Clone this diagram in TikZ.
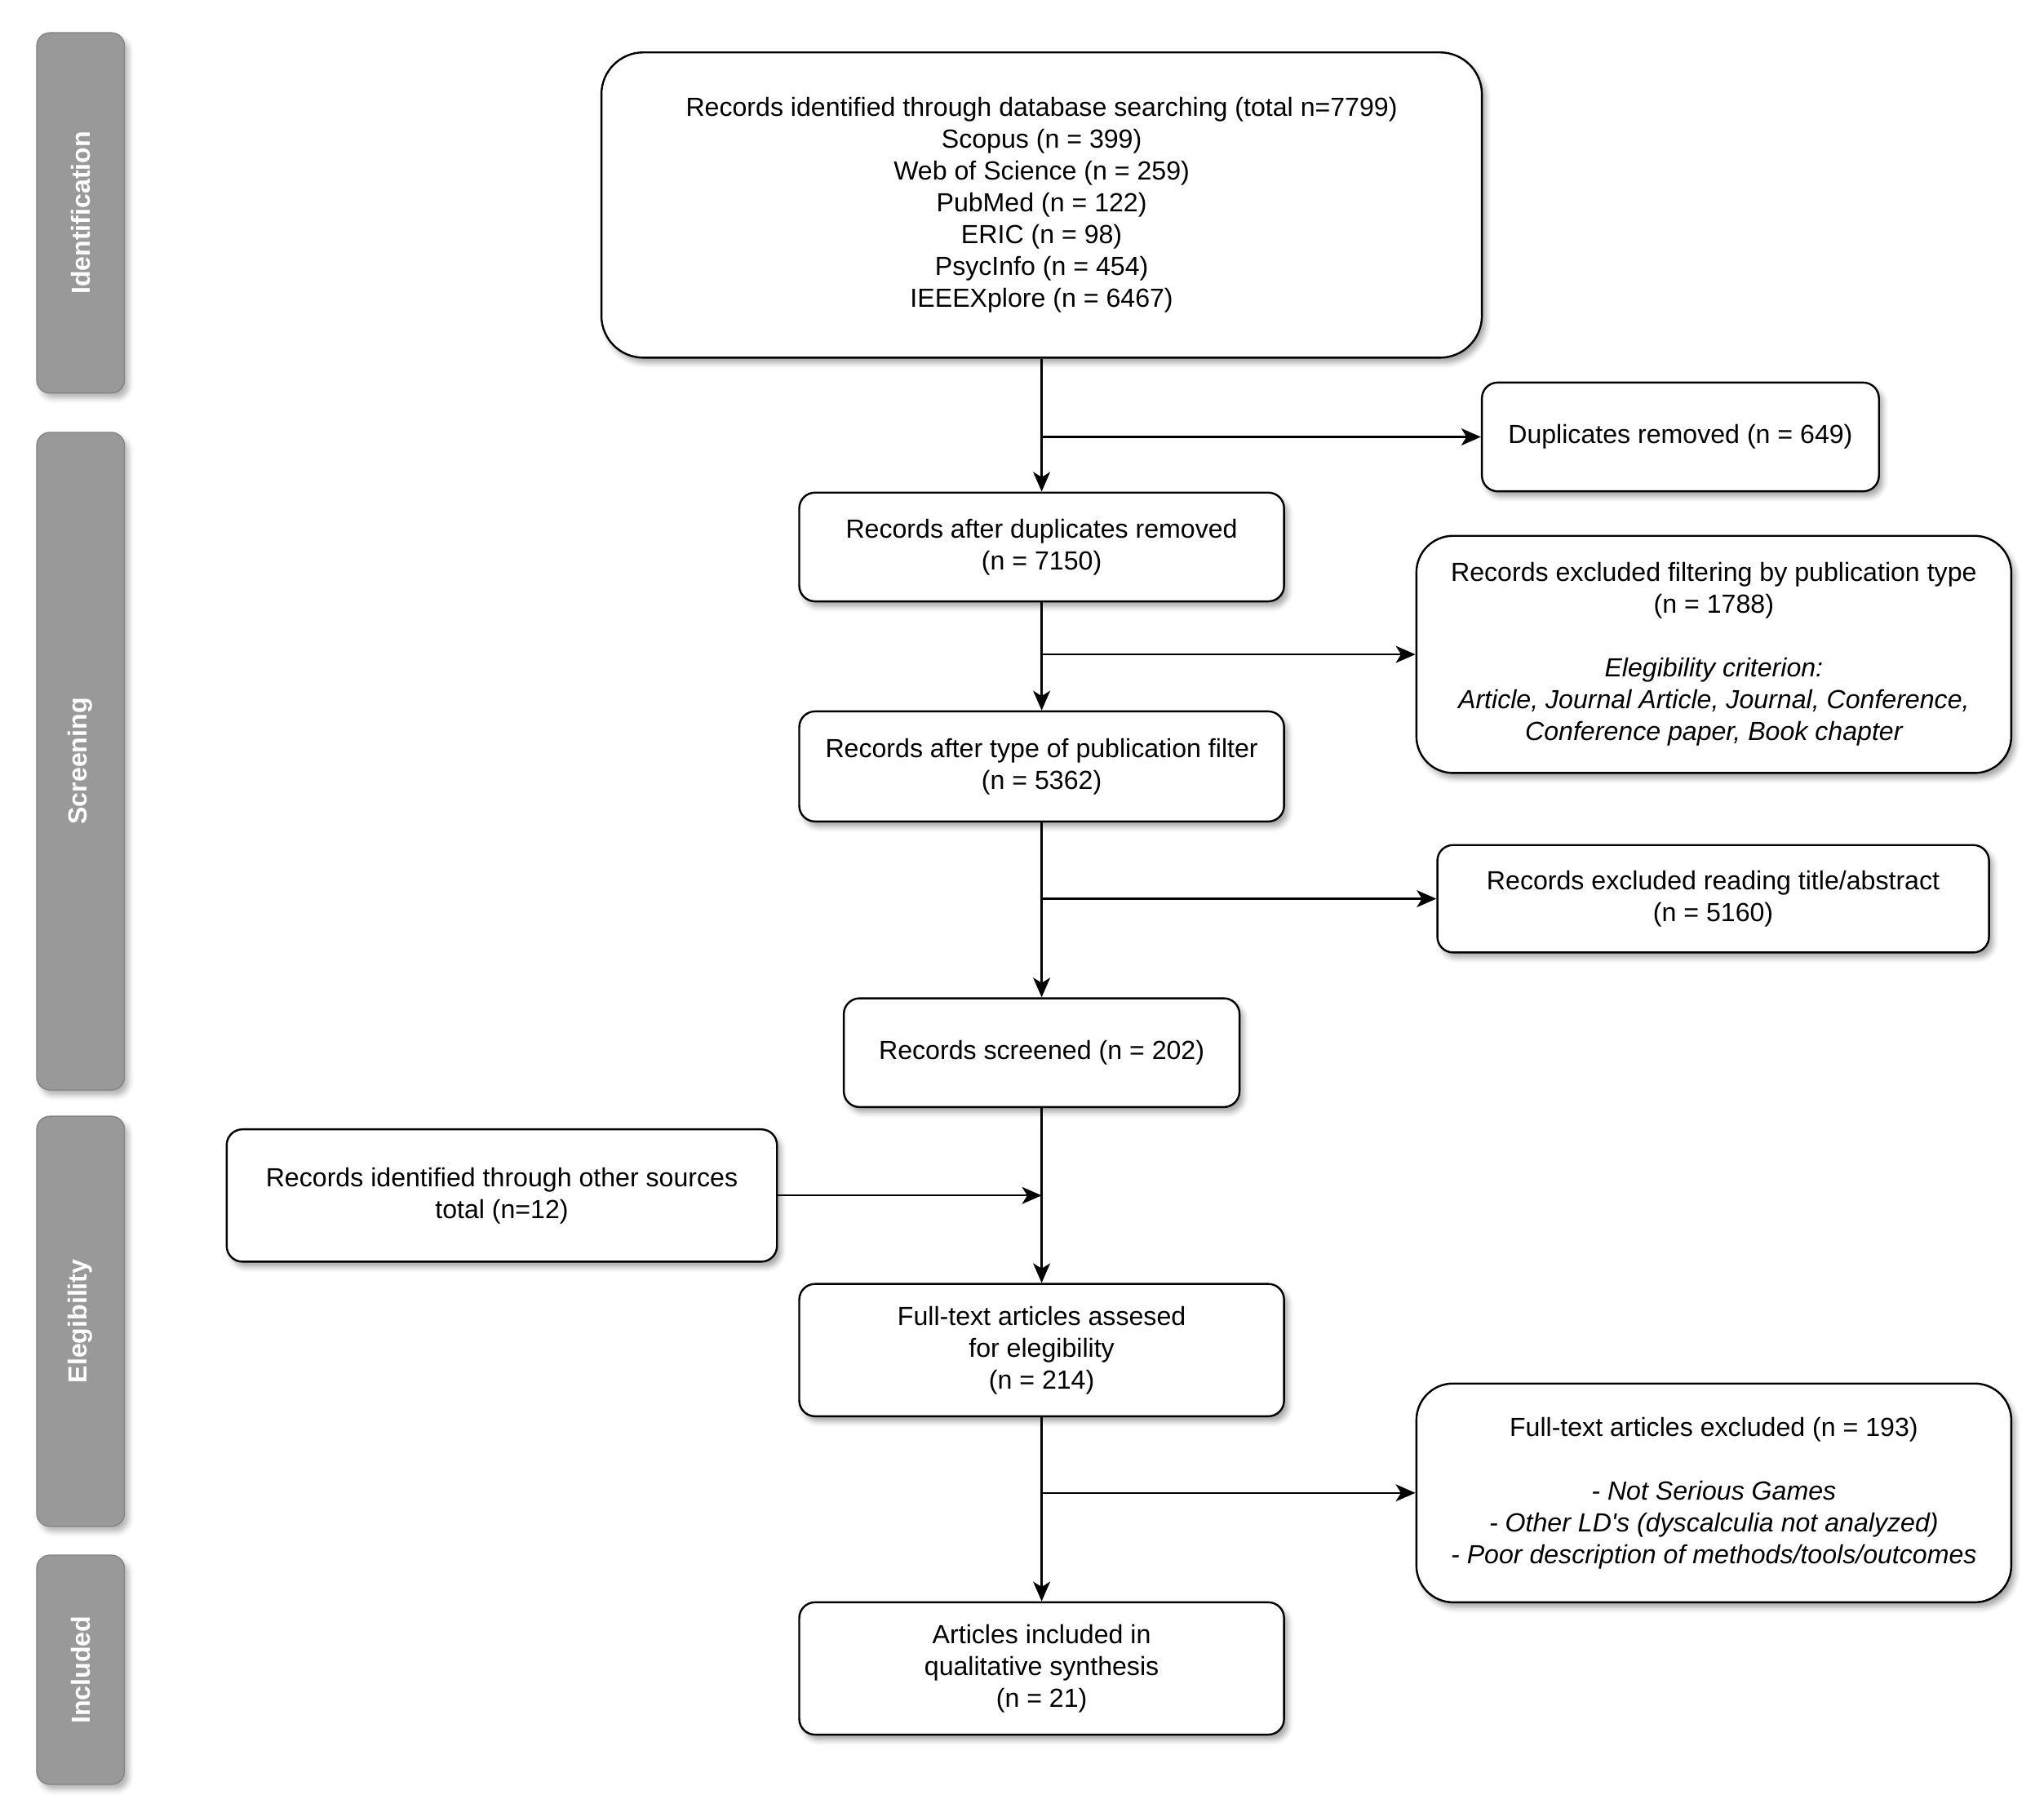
\documentclass[tikz,border=0pt]{standalone}
\usepackage{fontspec}
\setmainfont{Liberation Sans}[Ligatures=TeXOff]
\usetikzlibrary{arrows.meta,shadows.blur}
\definecolor{lanegray}{RGB}{153,153,153}
\tikzset{
  txt/.style={font=\fontsize{20}{24.3}\selectfont},
  box/.style={draw=black, line width=1.5pt, fill=white, rounded corners=12pt,
    align=center, txt, inner sep=0pt,
    blur shadow={shadow xshift=3pt, shadow yshift=-4pt, shadow opacity=35, shadow blur radius=4pt}},
  bigbox/.style={box, rounded corners=32pt},
  midbox/.style={box, rounded corners=28pt},
  lane/.style={fill=lanegray, draw=lanegray!85!black, line width=0.8pt, rounded corners=10pt,
    minimum width=67pt, inner sep=0pt,
    blur shadow={shadow xshift=3pt, shadow yshift=-4pt, shadow opacity=30, shadow blur radius=4pt}},
  lanelabel/.style={text=white, font=\fontsize{20}{24}\selectfont\bfseries, rotate=90},
  arr/.style={-{Stealth[length=15pt,width=13pt,inset=4pt]}, line width=1.4pt},
  ln/.style={line width=1.4pt}
}
\begin{document}
\begin{tikzpicture}[x=1pt,y=-1pt]
\useasboundingbox (0,0) rectangle (1560,1380);

% lanes
\node[lane, minimum height=275pt] (L1) at (61.5,162.5) {};
\node[lanelabel] (L1t) at (L1.center) {Identification};
\node[lane, minimum height=502pt] (L2) at (61.5,581) {};
\node[lanelabel] (L2t) at (L2.center) {Screening};
\node[lane, minimum height=313pt] (L3) at (61.5,1008.5) {};
\node[lanelabel] (L3t) at (L3.center) {Elegibility};
\node[lane, minimum height=175pt] (L4) at (61.5,1274.5) {};
\node[lanelabel] (L4t) at (L4.center) {Included};

% boxes
\node[bigbox, minimum width=672pt, minimum height=233pt] (top) at (795,156.5)
  {Records identified through database searching (total n=7799)\\
   Scopus (n = 399)\\ Web of Science (n = 259)\\ PubMed (n = 122)\\
   ERIC (n = 98)\\ PsycInfo (n = 454)\\ IEEEXplore (n = 6467)};
\node[box, minimum width=303pt, minimum height=83pt] (dup) at (1282.5,333.5)
  {Duplicates removed (n = 649)};
\node[box, minimum width=370pt, minimum height=83pt] (adup) at (795,417.5)
  {Records after duplicates removed\\ (n = 7150)};
\node[midbox, minimum width=454pt, minimum height=181pt] (expub) at (1308,499.5)
  {Records excluded filtering by publication type\\ (n = 1788)\\[24.3pt]
   \itshape Elegibility criterion:\\ \itshape Article, Journal Article, Journal, Conference,\\
   \itshape Conference paper, Book chapter};
\node[box, minimum width=370pt, minimum height=84pt] (atype) at (795,585)
  {Records after type of publication filter\\ (n = 5362)};
\node[box, minimum width=421pt, minimum height=82pt] (extit) at (1307.5,686)
  {Records excluded reading title/abstract\\ (n = 5160)};
\node[box, minimum width=302pt, minimum height=83pt] (scr) at (795,803.5)
  {Records screened (n = 202)};
\node[box, minimum width=420pt, minimum height=101pt] (other) at (383,912.5)
  {Records identified through other sources\\ total (n=12)};
\node[box, minimum width=370pt, minimum height=101pt] (full) at (795,1030.5)
  {Full-text articles assesed\\ for elegibility\\ (n = 214)};
\node[midbox, minimum width=454pt, minimum height=167pt] (exfull) at (1308,1139.5)
  {Full-text articles excluded (n = 193)\\[24.3pt]
   \itshape - Not Serious Games\\ \itshape - Other LD's (dyscalculia not analyzed)\\
   \itshape - Poor description of methods/tools/outcomes};
\node[box, minimum width=370pt, minimum height=101pt] (incl) at (795,1273.5)
  {Articles included in\\ qualitative synthesis\\ (n = 21)};

% branch points
\coordinate (b1) at (795,333.5);
\coordinate (b2) at (795,499.5);
\coordinate (b3) at (795,686);
\coordinate (b4) at (795,912.5);
\coordinate (b5) at (795,1139.5);

% connectors
\draw[arr] (top.south) -- (adup.north);
\draw[arr] (b1) -- (dup.west);
\draw[arr] (adup.south) -- (atype.north);
\draw[arr] (b2) -- (expub.west);
\draw[arr] (atype.south) -- (scr.north);
\draw[arr] (b3) -- (extit.west);
\draw[arr] (scr.south) -- (full.north);
\draw[arr] (other.east) -- (b4);
\draw[arr] (full.south) -- (incl.north);
\draw[arr] (b5) -- (exfull.west);
\end{tikzpicture}
\end{document}
